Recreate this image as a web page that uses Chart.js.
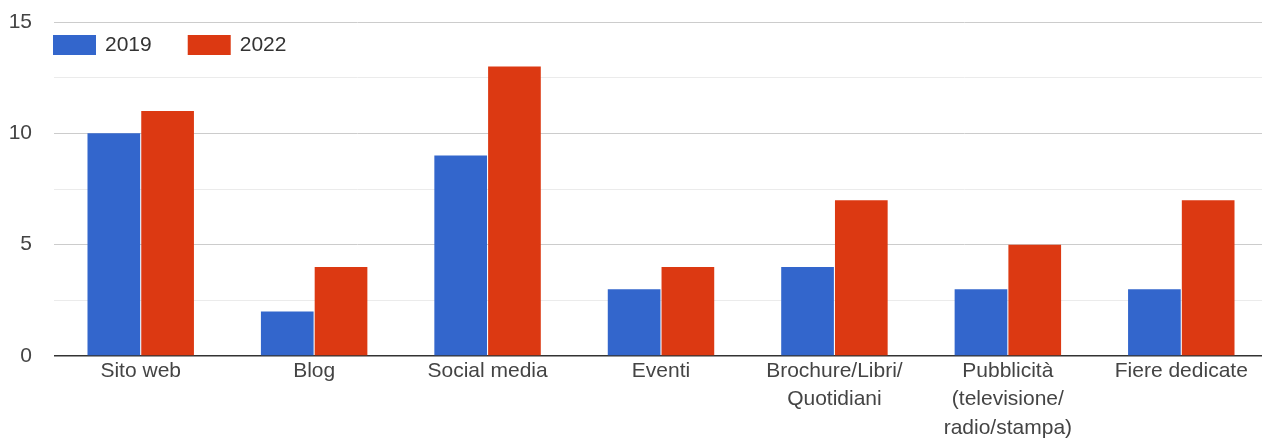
<!DOCTYPE html>
<html lang="it">
<head>
<meta charset="utf-8">
<title>Canali di comunicazione 2019 / 2022</title>
<script src="https://cdn.jsdelivr.net/npm/chart.js@4/dist/chart.umd.min.js"></script>
<style>
    html, body { margin: 0; padding: 0; background: #fff; overflow: hidden; }
    #wrap { position: relative; width: 1268px; height: 439px; }
</style>
</head>
<body>
<div id="wrap"><canvas id="chartCanali"></canvas></div>
<script>
// Canali usati, confronto 2019 / 2022
const categorie = [
    'Sito web',
    'Blog',
    'Social media',
    'Eventi',
    ['Brochure/Libri/', 'Quotidiani'],
    ['Pubblicità', '(televisione/', 'radio/stampa)'],
    'Fiere dedicate'
];
const valori2019 = [10, 2, 9, 3, 4, 3, 3];
const valori2022 = [11, 4, 13, 4, 7, 5, 7];
const etichetteAnni = ['2019', '2022'];
const tickY = [0, 5, 10, 15];

const FONT = '"Liberation Sans", Arial, sans-serif';

// legenda disegnata dentro l'area del grafico, in alto a sinistra
const legendaInterna = {
    id: 'legendaInterna',
    afterDraw(chart) {
        const ctx = chart.ctx;
        const area = chart.chartArea;
        let x = area.left - 1;
        const y = area.top + 13;
        ctx.save();
        ctx.font = '21px ' + FONT;
        ctx.textBaseline = 'middle';
        ctx.textAlign = 'left';
        chart.data.datasets.forEach(function(ds) {
            ctx.fillStyle = ds.backgroundColor;
            ctx.fillRect(x, y, 43, 20);
            ctx.fillStyle = '#333';
            ctx.fillText(ds.label, x + 52, y + 10);
            x += 52 + ctx.measureText(ds.label).width + 36;
        });
        ctx.restore();
    }
};

document.addEventListener('DOMContentLoaded', function() {
    const ctx = document.getElementById('chartCanali').getContext('2d');

    new Chart(ctx, {
        type: 'bar',
        data: {
            labels: categorie,
            datasets: [
                {
                    label: etichetteAnni[0],
                    data: valori2019,
                    backgroundColor: '#3366cc',
                    categoryPercentage: 0.62,
                    barPercentage: 0.98
                },
                {
                    label: etichetteAnni[1],
                    data: valori2022,
                    backgroundColor: '#dc3912',
                    categoryPercentage: 0.62,
                    barPercentage: 0.98
                }
            ]
        },
        options: {
            responsive: true,
            maintainAspectRatio: false,
            animation: false,
            layout: { padding: { top: 22, right: 0, bottom: 0, left: 0 } },
            plugins: {
                legend: { display: false },
                tooltip: { enabled: false }
            },
            scales: {
                x: {
                    grid: { display: false },
                    border: { display: false },
                    ticks: {
                        color: '#444',
                        font: { size: 21, family: FONT, lineHeight: 1.35 },
                        padding: -7,
                        maxRotation: 0,
                        autoSkip: false
                    },
                    afterFit: function(scale) { scale.height = 83; }
                },
                y: {
                    min: 0,
                    max: 15,
                    border: { display: false },
                    grid: {
                        drawTicks: false,
                        color: function(c) {
                            const v = c.tick.value;
                            if (v === 0) return '#333';
                            return tickY.includes(v) ? '#cccccc' : '#ebebeb';
                        },
                        lineWidth: function(c) { return c.tick.value === 0 ? 1.5 : 1; }
                    },
                    ticks: {
                        stepSize: 2.5,
                        color: '#444',
                        padding: 22,
                        font: { size: 21, family: FONT },
                        callback: function(value) {
                            return tickY.includes(value) ? value : '';
                        }
                    },
                    afterFit: function(scale) {
                        scale.width = 54;
                        scale.paddingTop = 0;
                        scale.paddingBottom = 0;
                    }
                }
            }
        },
        plugins: [legendaInterna]
    });
});
</script>
</body>
</html>
